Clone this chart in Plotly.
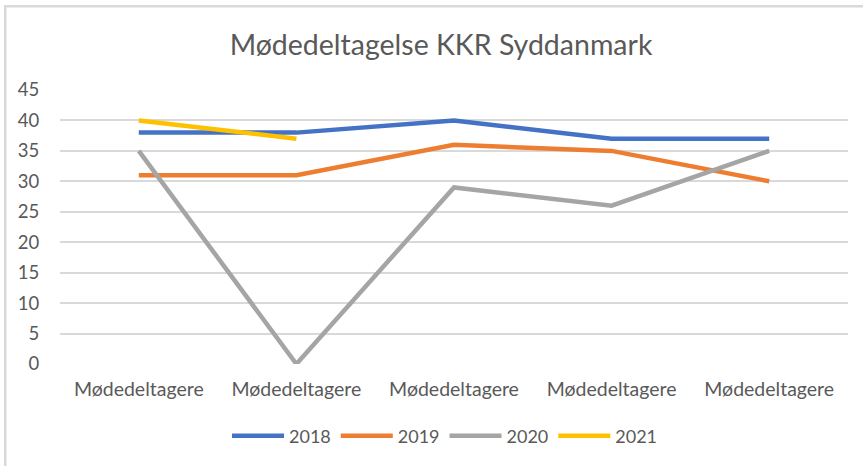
import plotly.graph_objects as go

categories = ["Mødedeltagere", "Mødedeltagere", "Mødedeltagere", "Mødedeltagere", "Mødedeltagere"]
series_names = ["2018", "2019", "2020", "2021"]
v2018 = [38, 38, 40, 37, 37]
v2019 = [31, 31, 36, 35, 30]
v2020 = [35, 0, 29, 26, 35]
v2021 = [40, 37]
colors = ["#4472C4", "#ED7D31", "#A5A5A5", "#FFC000"]
y_ticks = [0, 5, 10, 15, 20, 25, 30, 35, 40, 45]

all_values = [v2018, v2019, v2020, v2021]
pos = list(range(len(categories)))

fig = go.Figure()
for name, vals, col in zip(series_names, all_values, colors):
    fig.add_trace(go.Scatter(
        x=pos[:len(vals)], y=vals, name=name, mode="lines",
        line=dict(color=col, width=4.5),
    ))

W, H = 863, 466
L, R, T, B = 60, 15, 90, 102
pw = W - L - R
ph = H - T - B

def px_x(x):
    return (x - L) / pw

def px_y(y):
    return (H - B - y) / ph

frame_col = "#D9D9D9"
# top edge as a thin filled band
fig.add_shape(type="rect", xref="paper", yref="paper",
              x0=px_x(4), x1=px_x(W + 5), y0=px_y(7.5), y1=px_y(5),
              fillcolor=frame_col, line=dict(width=0), layer="above")
# left edge as a thin filled band
fig.add_shape(type="rect", xref="paper", yref="paper",
              x0=px_x(4), x1=px_x(6.5), y0=px_y(H + 5), y1=px_y(5),
              fillcolor=frame_col, line=dict(width=0), layer="above")

font_family = "Lato, 'Open Sans', sans-serif"
fig.update_layout(
    width=W, height=H,
    margin=dict(l=L, r=R, t=T, b=B, autoexpand=False),
    paper_bgcolor="white", plot_bgcolor="white",
    title=dict(text="Mødedeltagelse KKR Syddanmark", x=441 / W, xanchor="center",
               y=1 - 45 / H, yanchor="middle",
               font=dict(family=font_family, size=28.5, color="#595959")),
    xaxis=dict(range=[-0.5, len(categories) - 0.5], tickmode="array", tickvals=pos,
               ticktext=categories, showgrid=False, zeroline=False, showline=False,
               ticks="outside", ticklen=8, tickcolor="rgba(0,0,0,0)",
               tickfont=dict(family=font_family, size=19.5, color="#595959")),
    yaxis=dict(range=[0, 45], tickmode="array", tickvals=y_ticks,
               showgrid=True, gridcolor="#D9D9D9", gridwidth=1.5, zeroline=False,
               showline=False, ticks="outside", ticklen=16, tickcolor="rgba(0,0,0,0)",
               tickfont=dict(family=font_family, size=18.5, color="#595959")),
    legend=dict(orientation="h", x=px_x(445), xanchor="center", y=px_y(436), yanchor="middle",
                font=dict(family=font_family, size=18, color="#595959"),
                itemwidth=52, bgcolor="rgba(0,0,0,0)"),
    showlegend=True,
)

fig.write_html("out.html", config={"displayModeBar": False},
               post_script="document.body.style.margin='0';")
